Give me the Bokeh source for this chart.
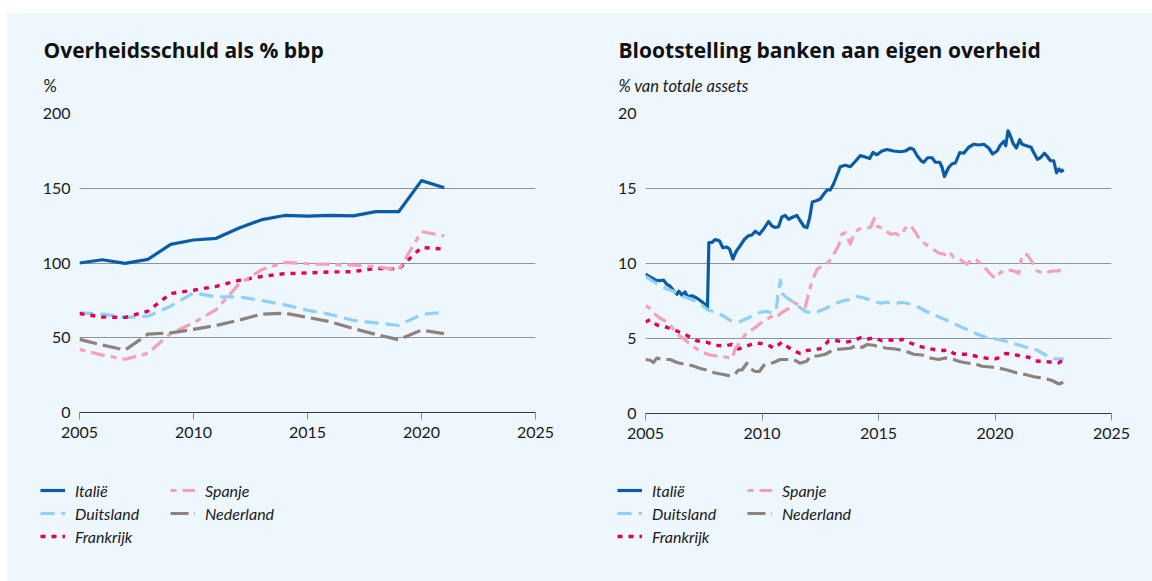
from bokeh.plotting import figure
from bokeh.models import Label, Legend, LegendItem, FixedTicker, Range1d, ColumnDataSource, Spacer
from bokeh.layouts import row, column
from bokeh.embed import file_html
from bokeh.resources import INLINE

# ---------------- data: left chart (government debt, % GDP) ----------------
years = list(range(2005, 2022))
debt_italie = [100.0, 102.2, 99.8, 102.4, 112.5, 115.4, 116.5, 123.4, 129.0, 131.8,
               131.4, 131.8, 131.5, 134.4, 134.3, 155.1, 150.3]
debt_duitsland = [66.7, 65.8, 63.6, 64.4, 71.1, 80.0, 77.3, 77.3, 74.9, 72.0,
                  68.4, 65.6, 61.6, 60.0, 58.2, 65.6, 67.1]
debt_frankrijk = [66.2, 63.8, 63.6, 67.8, 79.6, 81.8, 84.4, 88.4, 91.0, 92.9,
                  93.3, 94.0, 94.2, 96.4, 96.0, 110.4, 109.3]
debt_spanje = [42.2, 38.4, 35.6, 39.6, 52.9, 60.0, 68.9, 86.0, 95.6, 100.4,
               99.5, 99.0, 98.6, 97.6, 95.5, 120.9, 118.2]
debt_nederland = [48.9, 45.1, 41.8, 52.4, 53.3, 55.6, 58.2, 61.8, 65.8, 66.4,
                  63.6, 60.7, 56.2, 52.2, 48.7, 55.1, 52.7]

# ---------------- data: right chart (bank exposure to own government, % of total assets) ----------------
exp_italie = [
    (2005.00, 9.3), (2005.20, 9.1), (2005.42, 8.9), (2005.63, 8.85), (2005.77, 8.9), (2005.92, 8.6),
    (2006.05, 8.5), (2006.20, 8.2), (2006.35, 7.95), (2006.43, 8.15), (2006.56, 7.9), (2006.70, 8.1),
    (2006.80, 7.8), (2006.99, 7.85), (2007.20, 7.7), (2007.42, 7.45), (2007.60, 7.2), (2007.66, 7.05),
    (2007.72, 11.4), (2007.85, 11.4), (2007.99, 11.6), (2008.18, 11.5), (2008.32, 11.05), (2008.49, 11.1),
    (2008.61, 10.95), (2008.75, 10.3), (2008.89, 10.8), (2009.07, 11.2), (2009.24, 11.6), (2009.42, 11.85),
    (2009.57, 11.9), (2009.71, 12.15), (2009.89, 11.95), (2010.07, 12.3), (2010.28, 12.8), (2010.43, 12.5),
    (2010.57, 12.4), (2010.71, 12.45), (2010.85, 13.1), (2011.00, 13.2), (2011.14, 12.95), (2011.33, 13.1),
    (2011.50, 13.2), (2011.64, 12.85), (2011.81, 12.45), (2011.93, 12.4), (2012.04, 13.0), (2012.16, 14.1),
    (2012.36, 14.2), (2012.50, 14.3), (2012.64, 14.6), (2012.79, 14.9), (2012.93, 14.9), (2013.07, 15.3),
    (2013.25, 16.0), (2013.36, 16.45), (2013.57, 16.55), (2013.79, 16.45), (2014.00, 16.8), (2014.22, 17.2),
    (2014.43, 17.1), (2014.62, 17.0), (2014.76, 17.4), (2014.93, 17.25), (2015.15, 17.5), (2015.36, 17.6),
    (2015.65, 17.5), (2015.94, 17.45), (2016.15, 17.5), (2016.37, 17.7), (2016.51, 17.6), (2016.65, 17.2),
    (2016.83, 16.85), (2016.94, 16.75), (2017.11, 17.05), (2017.30, 17.05), (2017.44, 16.75), (2017.63, 16.75),
    (2017.73, 16.4), (2017.83, 15.8), (2018.01, 16.4), (2018.16, 16.65), (2018.30, 16.7), (2018.49, 17.4),
    (2018.66, 17.35), (2018.87, 17.75), (2019.09, 17.95), (2019.30, 17.9), (2019.52, 17.95), (2019.73, 17.7),
    (2019.90, 17.3), (2020.09, 17.5), (2020.23, 17.9), (2020.38, 18.15), (2020.46, 17.85), (2020.56, 18.85),
    (2020.64, 18.6), (2020.78, 18.0), (2020.92, 17.7), (2021.06, 18.25), (2021.16, 17.95), (2021.35, 17.85),
    (2021.55, 17.75), (2021.66, 17.4), (2021.82, 16.95), (2021.95, 17.05), (2022.12, 17.35), (2022.24, 17.15),
    (2022.38, 16.85), (2022.52, 16.85), (2022.64, 16.05), (2022.74, 16.3), (2022.84, 16.15), (2022.95, 16.25),
]
exp_duitsland = [
    (2005.00, 9.15), (2005.34, 8.8), (2005.77, 8.4), (2006.20, 8.15), (2006.63, 7.8), (2006.99, 7.6),
    (2007.35, 7.3), (2007.68, 6.9), (2007.99, 6.75), (2008.35, 6.5), (2008.64, 6.2), (2009.02, 6.1),
    (2009.45, 6.4), (2009.82, 6.7), (2010.18, 6.82), (2010.45, 6.7), (2010.61, 6.9), (2010.68, 7.9),
    (2010.79, 8.9), (2010.88, 8.0), (2011.03, 7.75), (2011.33, 7.45), (2011.60, 7.1), (2011.86, 6.8),
    (2012.10, 6.7), (2012.40, 6.8), (2012.72, 7.0), (2013.10, 7.3), (2013.45, 7.5), (2013.75, 7.6),
    (2014.05, 7.8), (2014.40, 7.7), (2014.75, 7.5), (2015.08, 7.35), (2015.36, 7.42), (2015.65, 7.3),
    (2016.00, 7.42), (2016.37, 7.3), (2016.70, 7.1), (2017.05, 6.8), (2017.51, 6.5), (2017.94, 6.2),
    (2018.37, 5.9), (2018.72, 5.65), (2019.23, 5.3), (2019.66, 5.05), (2020.09, 4.95), (2020.52, 4.8),
    (2020.95, 4.6), (2021.38, 4.4), (2021.74, 4.27), (2022.17, 3.9), (2022.53, 3.65), (2022.95, 3.62),
]
exp_frankrijk = [
    (2005.00, 6.1), (2005.20, 6.25), (2005.49, 5.9), (2005.92, 5.75), (2006.35, 5.5), (2006.78, 5.2),
    (2007.20, 4.85), (2007.63, 4.75), (2007.99, 4.55), (2008.35, 4.5), (2008.71, 4.6), (2008.99, 4.3),
    (2009.35, 4.5), (2009.71, 4.7), (2010.07, 4.65), (2010.35, 4.5), (2010.50, 4.35), (2010.86, 4.75),
    (2011.14, 4.4), (2011.36, 4.2), (2011.64, 4.0), (2011.93, 4.2), (2012.29, 4.25), (2012.57, 4.35),
    (2012.86, 4.85), (2013.22, 4.85), (2013.58, 4.75), (2013.93, 4.85), (2014.22, 5.05), (2014.51, 4.95),
    (2014.79, 5.05), (2015.15, 4.85), (2015.51, 4.9), (2015.87, 4.85), (2016.01, 4.95), (2016.37, 4.7),
    (2016.72, 4.5), (2017.08, 4.35), (2017.44, 4.25), (2017.80, 4.2), (2018.01, 4.25), (2018.23, 4.0),
    (2018.51, 3.95), (2018.87, 3.95), (2019.23, 3.8), (2019.66, 3.68), (2020.02, 3.65), (2020.23, 3.75),
    (2020.45, 4.0), (2020.81, 3.95), (2021.16, 3.8), (2021.45, 3.75), (2021.74, 3.5), (2022.09, 3.48),
    (2022.52, 3.4), (2022.74, 3.38), (2022.95, 3.6),
]
exp_spanje = [
    (2005.00, 7.2), (2005.20, 7.0), (2005.42, 6.6), (2005.63, 6.35), (2005.92, 6.1), (2006.13, 5.75),
    (2006.35, 5.3), (2006.63, 5.0), (2006.92, 4.6), (2007.20, 4.3), (2007.49, 4.05), (2007.78, 3.9),
    (2008.14, 3.8), (2008.49, 3.75), (2008.71, 3.65), (2008.85, 4.3), (2009.07, 4.8), (2009.35, 5.4),
    (2009.64, 5.65), (2009.92, 6.0), (2010.21, 6.3), (2010.50, 6.55), (2010.64, 6.45), (2010.86, 6.75),
    (2011.14, 7.0), (2011.36, 7.4), (2011.64, 7.2), (2011.86, 7.1), (2012.00, 8.0), (2012.14, 8.8),
    (2012.36, 9.6), (2012.64, 9.9), (2012.86, 10.1), (2013.07, 10.6), (2013.29, 11.2), (2013.43, 11.95),
    (2013.58, 12.05), (2013.79, 11.3), (2013.93, 11.9), (2014.15, 12.3), (2014.43, 12.35), (2014.65, 12.4),
    (2014.82, 13.0), (2014.94, 12.5), (2015.22, 12.3), (2015.51, 11.95), (2015.72, 12.0), (2015.94, 11.85),
    (2016.15, 12.35), (2016.37, 12.55), (2016.58, 12.1), (2016.80, 11.5), (2017.01, 11.3), (2017.30, 11.0),
    (2017.58, 10.7), (2017.87, 10.6), (2018.01, 10.8), (2018.23, 10.4), (2018.51, 10.25), (2018.80, 9.95),
    (2019.01, 10.3), (2019.23, 10.2), (2019.52, 9.8), (2019.80, 9.3), (2020.02, 9.0), (2020.23, 9.4),
    (2020.52, 9.6), (2020.81, 9.5), (2021.02, 9.35), (2021.16, 10.55), (2021.38, 10.6), (2021.59, 10.1),
    (2021.81, 9.5), (2022.09, 9.35), (2022.45, 9.5), (2022.74, 9.5), (2022.95, 9.9),
]
exp_nederland = [
    (2005.00, 3.6), (2005.20, 3.55), (2005.34, 3.4), (2005.49, 3.7), (2005.70, 3.6), (2006.06, 3.6),
    (2006.35, 3.4), (2006.63, 3.3), (2006.99, 3.2), (2007.35, 3.0), (2007.63, 2.9), (2007.99, 2.7),
    (2008.35, 2.6), (2008.64, 2.5), (2008.85, 2.65), (2008.99, 2.9), (2009.14, 2.9), (2009.35, 3.35),
    (2009.50, 3.0), (2009.71, 2.8), (2009.89, 2.8), (2010.07, 3.2), (2010.28, 3.35), (2010.50, 3.4),
    (2010.78, 3.6), (2011.07, 3.6), (2011.36, 3.6), (2011.64, 3.35), (2011.93, 3.5), (2012.07, 3.8),
    (2012.43, 3.85), (2012.72, 3.95), (2013.07, 4.25), (2013.43, 4.3), (2013.79, 4.35), (2014.08, 4.55),
    (2014.29, 4.4), (2014.51, 4.6), (2014.79, 4.55), (2015.01, 4.45), (2015.36, 4.35), (2015.72, 4.3),
    (2016.08, 4.2), (2016.51, 3.95), (2016.87, 3.9), (2017.23, 3.7), (2017.58, 3.6), (2017.87, 3.7),
    (2018.23, 3.6), (2018.51, 3.45), (2018.87, 3.35), (2019.16, 3.3), (2019.44, 3.15), (2019.80, 3.1),
    (2020.09, 3.05), (2020.52, 2.9), (2020.95, 2.7), (2021.31, 2.6), (2021.66, 2.45), (2022.09, 2.35),
    (2022.45, 2.2), (2022.74, 1.97), (2022.95, 2.1),
]

countries = ["Italië", "Duitsland", "Frankrijk", "Spanje", "Nederland"]
legend_col1 = ["Italië", "Duitsland", "Frankrijk"]
legend_col2 = ["Spanje", "Nederland"]
x_ticks = [2005, 2010, 2015, 2020, 2025]
left_y_ticks = [0, 50, 100, 150, 200]
right_y_ticks = [0, 5, 10, 15, 20]

# ---------------- styling ----------------
BG = "#edf7fd"
FONT = "Lato"
TITLE_FONT = "Open Sans"
TXT = "#1a1a1a"
STYLES = {
    "Italië":    dict(line_color="#0b5ca8", line_width=3.2, line_dash="solid"),
    "Duitsland": dict(line_color="#8fd0f7", line_width=3.2, line_dash="14 7"),
    "Frankrijk": dict(line_color="#e3005d", line_width=3.4, line_dash="5 6"),
    "Spanje":    dict(line_color="#f4a1b4", line_width=3.2, line_dash="6 6 14 6"),
    "Nederland": dict(line_color="#8f817c", line_width=3.2, line_dash="18 6"),
}


def blank_fig(width, height):
    f = figure(width=width, height=height, output_backend="svg", toolbar_location=None,
               x_range=Range1d(0, 1), y_range=Range1d(0, 1),
               x_axis_location=None, y_axis_location=None,
               min_border=0, min_border_left=0, min_border_right=0,
               min_border_top=0, min_border_bottom=0, frame_align=False)
    f.grid.visible = False
    f.background_fill_color = BG
    f.border_fill_color = BG
    f.outline_line_color = None
    return f


def title_fig(width, title, subtitle, subtitle_italic, tx):
    h = 87
    f = blank_fig(width, h)
    f.add_layout(Label(x=tx, y=h - 36, x_units="screen", y_units="screen",
                       text=title, text_font=TITLE_FONT, text_font_style="bold",
                       text_font_size="21px", text_color="#111111", text_baseline="alphabetic"))
    f.add_layout(Label(x=tx, y=h - 72, x_units="screen", y_units="screen",
                       text=subtitle, text_font=FONT,
                       text_font_style="italic" if subtitle_italic else "normal",
                       text_font_size="16.5px", text_color=TXT, text_baseline="alphabetic"))
    return f


def chart_fig(width, frame_left, frame_w, frame_h, y_end, y_ticks, series):
    top, bottom = 13, 352 - 13 - frame_h
    p = figure(width=width, height=352, output_backend="svg", toolbar_location=None,
               x_range=Range1d(2005, 2025), y_range=Range1d(0, y_end),
               min_border_left=frame_left, min_border_right=width - frame_left - frame_w,
               min_border_top=top, min_border_bottom=bottom, frame_align=False)
    p.background_fill_color = BG
    p.border_fill_color = BG
    p.outline_line_color = None

    p.xgrid.grid_line_color = None
    p.ygrid.grid_line_color = "#8d949a"
    p.ygrid.grid_line_width = 1
    p.ygrid.ticker = FixedTicker(ticks=y_ticks)

    p.xaxis.ticker = FixedTicker(ticks=x_ticks)
    p.xaxis.axis_line_color = "#3a3a3a"
    p.xaxis.axis_line_width = 1.2
    p.xaxis.major_tick_line_color = "#8a8a8a"
    p.xaxis.major_tick_out = 7
    p.xaxis.major_tick_in = 0
    p.xaxis.minor_tick_line_color = None
    p.xaxis.major_label_standoff = 7
    p.xaxis.major_label_text_font = FONT
    p.xaxis.major_label_text_font_size = "16px"
    p.xaxis.major_label_text_color = TXT

    p.yaxis.ticker = FixedTicker(ticks=y_ticks)
    p.yaxis.axis_line_color = None
    p.yaxis.major_tick_line_color = None
    p.yaxis.minor_tick_line_color = None
    p.yaxis.major_tick_out = 0
    p.yaxis.major_tick_in = 0
    p.yaxis.major_label_standoff = 9
    p.yaxis.major_label_text_font = FONT
    p.yaxis.major_label_text_font_size = "16px"
    p.yaxis.major_label_text_color = TXT

    for name in countries:
        xs, ys = series[name]
        src = ColumnDataSource(dict(x=xs, y=ys))
        p.line("x", "y", source=src, line_join="round", line_cap="butt", **STYLES[name])
    return p


def legend_fig(width, x1, x2, series):
    # The same series are drawn here (outside this panel's visible range) so the legend
    # can reference renderers that carry each line style.
    h = 129
    f = blank_fig(width, h)
    rs = {}
    for name in countries:
        xs, ys = series[name]
        rs[name] = f.line(x=xs, y=ys, line_cap="butt", **STYLES[name])
    common = dict(glyph_width=25, glyph_height=20, label_height=20, label_standoff=10,
                  spacing=3, padding=0, margin=0, background_fill_alpha=0,
                  border_line_color=None, label_text_font=FONT, label_text_font_style="italic",
                  label_text_font_size="16px", label_text_color=TXT)
    top = 28
    b1 = h - (top + 3 * 20 + 2 * 3)
    b2 = h - (top + 2 * 20 + 3)
    leg1 = Legend(items=[LegendItem(label=n, renderers=[rs[n]]) for n in legend_col1],
                  location=(x1, b1), **common)
    leg2 = Legend(items=[LegendItem(label=n, renderers=[rs[n]]) for n in legend_col2],
                  location=(x2, b2), **common)
    f.add_layout(leg1, "center")
    f.add_layout(leg2, "center")
    return f


def split(pairs):
    return [a for a, _ in pairs], [b for _, b in pairs]


left_series = {
    "Italië": (years, debt_italie),
    "Duitsland": (years, debt_duitsland),
    "Frankrijk": (years, debt_frankrijk),
    "Spanje": (years, debt_spanje),
    "Nederland": (years, debt_nederland),
}
right_series = {
    "Italië": split(exp_italie),
    "Duitsland": split(exp_duitsland),
    "Frankrijk": split(exp_frankrijk),
    "Spanje": split(exp_spanje),
    "Nederland": split(exp_nederland),
}

WL, WR = 569, 576
bg_style = {"background-color": BG}
left_col = column(
    title_fig(WL, "Overheidsschuld als % bbp", "%", False, 36),
    chart_fig(WL, 72, 456, 299, 200, left_y_ticks, left_series),
    legend_fig(WL, 33, 163, left_series),
    spacing=0, styles=bg_style,
)
right_col = column(
    title_fig(WR, "Blootstelling banken aan eigen overheid", "% van totale assets", True, 42),
    chart_fig(WR, 69, 466, 300, 20, right_y_ticks, right_series),
    legend_fig(WR, 41, 171, right_series),
    spacing=0, styles=bg_style,
)

layout = column(
    Spacer(width=1152, height=13),
    row(Spacer(width=7, height=568), left_col, right_col, spacing=0),
    spacing=0,
)
open("out.html", "w").write(file_html(layout, INLINE))
